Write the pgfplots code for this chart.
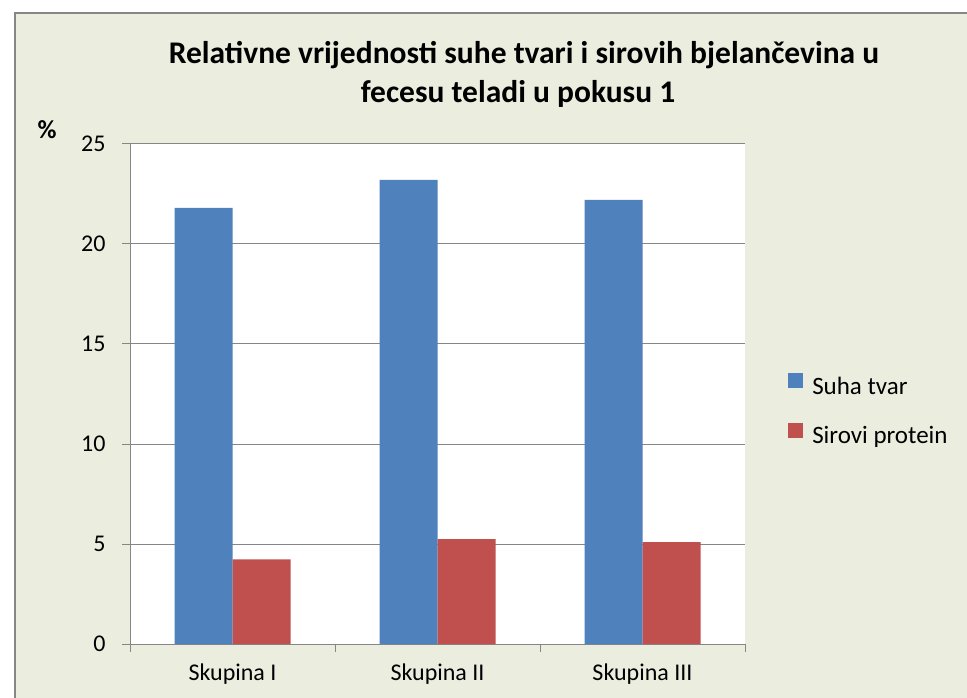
\documentclass[border=0pt]{standalone}
\usepackage{pgfplots}
\pgfplotsset{compat=1.18}
\usepackage{fontspec}
\setmainfont{Carlito}

\definecolor{bgc}{RGB}{235,238,223}
\definecolor{axgray}{RGB}{134,134,134}
\definecolor{suha}{RGB}{79,129,189}
\definecolor{sirovi}{RGB}{192,80,77}

\begin{document}
\begin{tikzpicture}[x=1pt,y=1pt]
\useasboundingbox (0,0) rectangle (967,697);
\fill[white] (0,0) rectangle (967,697);
\begin{scope}
  \clip (0,0) rectangle (967,697);
  \filldraw[fill=bgc, draw=axgray, line width=1.2pt] (15,-10) rectangle (985,684);
\end{scope}

% title and unit
\node[font=\bfseries\fontsize{31.5}{33}\selectfont, anchor=base] at (524,633)
  {Relativne vrijednosti suhe tvari i sirovih bjelančevina u};
\node[font=\bfseries\fontsize{31.5}{33}\selectfont, anchor=base] at (518,594)
  {fecesu teladi u pokusu 1};
\node[font=\bfseries\fontsize{26}{30}\selectfont] at (47,567) {\%};

\begin{axis}[
  at={(130pt,53pt)}, anchor=south west,
  scale only axis,
  width=615pt, height=500pt,
  ybar=0pt, bar width=58pt,
  xmin=-0.5, xmax=2.5,
  ymin=0, ymax=25,
  ytick={0,5,10,15,20,25},
  xtick={-0.5,0.5,1.5,2.5},
  xticklabels={,,,},
  extra x ticks={0,1,2},
  extra x tick labels={Skupina I,Skupina II,Skupina III},
  extra x tick style={tick style={draw=none}},
  axis lines=left,
  axis line style={-, draw=axgray, line width=1pt},
  tick style={draw=axgray, line width=1pt},
  tick align=outside,
  major tick length=8pt,
  ymajorgrids,
  grid style={draw=axgray, line width=1pt},
  axis background/.style={fill=white},
  /pgf/number format/assume math mode=true,
  yticklabel style={font=\fontsize{24}{28}\selectfont, xshift=-13pt},
  xticklabel style={font=\fontsize{24}{28}\selectfont, yshift=-8pt},
  legend style={at={(1.07,0.468)}, anchor=west, draw=none, fill=none,
    inner sep=0pt, font=\fontsize{25}{29}\selectfont, row sep=25pt,
    /tikz/every odd column/.style={column sep=7pt}},
  legend cell align=left,
  legend image code/.code={\fill[#1] (0pt,-2pt) rectangle (15pt,13pt);},
]
\addplot[fill=suha, draw=none] coordinates {(0,21.8) (1,23.2) (2,22.2)};
\addlegendentry{Suha tvar}
\addplot[fill=sirovi, draw=none] coordinates {(0,4.23) (1,5.25) (2,5.1)};
\addlegendentry{Sirovi protein}
\end{axis}
\end{tikzpicture}
\end{document}
